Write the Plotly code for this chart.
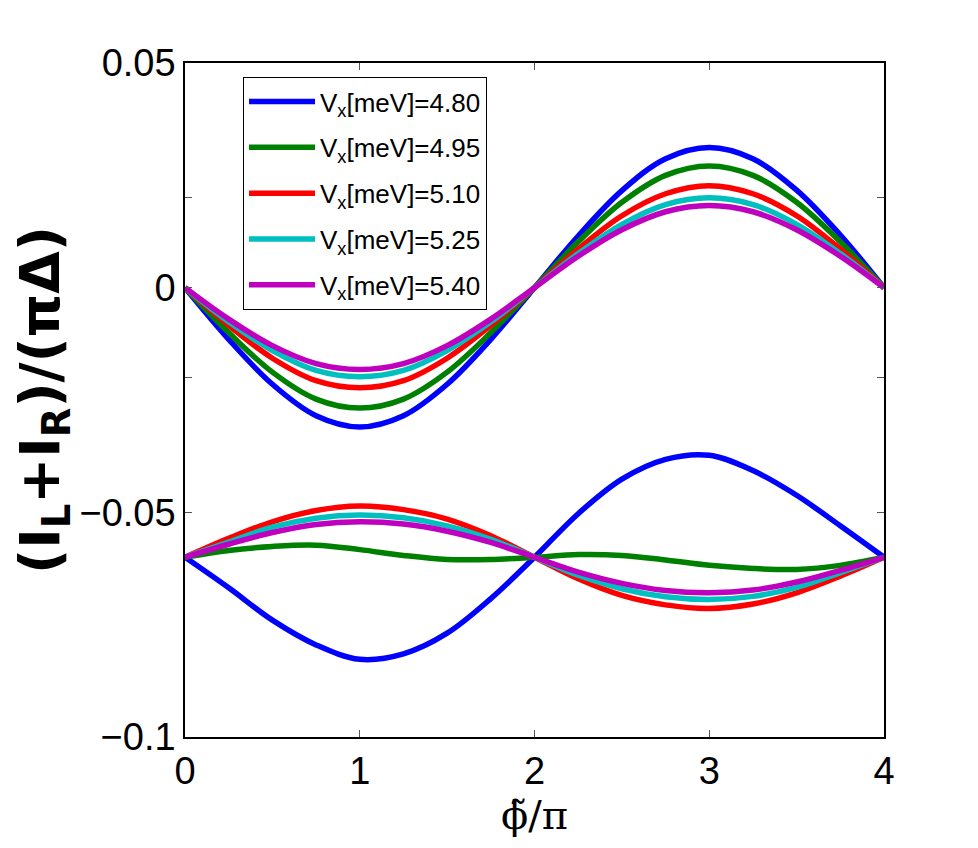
import plotly.graph_objects as go

phi = [0, 0.25, 0.5, 0.75, 1.0, 1.25, 1.5, 1.75, 2.0, 2.25, 2.5, 2.75, 3.0, 3.25, 3.5, 3.75, 4.0]

labels = ["V<sub>x</sub>[meV]=4.80", "V<sub>x</sub>[meV]=4.95", "V<sub>x</sub>[meV]=5.10",
          "V<sub>x</sub>[meV]=5.25", "V<sub>x</sub>[meV]=5.40"]
colors = ["#0000FF", "#008000", "#FF0000", "#00BFBF", "#BF00BF"]

upper_480 = [0, -0.0115, -0.0215, -0.0285, -0.0310, -0.0285, -0.0215, -0.0115, 0,
             0.0115, 0.0216, 0.0287, 0.0312, 0.0287, 0.0217, 0.0117, 0]
upper_495 = [0, -0.0100, -0.0188, -0.0248, -0.0268, -0.0248, -0.0188, -0.0100, 0,
             0.0102, 0.0190, 0.0250, 0.0271, 0.0250, 0.0190, 0.0102, 0]
upper_510 = [0, -0.0084, -0.0157, -0.0207, -0.0223, -0.0207, -0.0157, -0.0084, 0,
             0.0086, 0.0160, 0.0209, 0.0227, 0.0209, 0.0160, 0.0086, 0]
upper_525 = [0, -0.0076, -0.0140, -0.0184, -0.0198, -0.0184, -0.0140, -0.0076, 0,
             0.0076, 0.0141, 0.0185, 0.0200, 0.0185, 0.0141, 0.0076, 0]
upper_540 = [0, -0.0070, -0.0129, -0.0169, -0.0182, -0.0169, -0.0129, -0.0070, 0,
             0.0070, 0.0129, 0.0169, 0.0183, 0.0169, 0.0129, 0.0070, 0]

lower_480 = [-0.0600, -0.0668, -0.0740, -0.0795, -0.0827, -0.0815, -0.0769, -0.0692, -0.0600,
             -0.0503, -0.0426, -0.0382, -0.0373, -0.0407, -0.0462, -0.0530, -0.0600]
lower_495 = [-0.0600, -0.0585, -0.0576, -0.0573, -0.0583, -0.0596, -0.0605, -0.0605, -0.0600,
             -0.0594, -0.0596, -0.0606, -0.0618, -0.0625, -0.0627, -0.0618, -0.0600]
lower_510 = [-0.0600, -0.0558, -0.0521, -0.0496, -0.0486, -0.0494, -0.0515, -0.0552, -0.0600,
             -0.0648, -0.0685, -0.0706, -0.0714, -0.0704, -0.0679, -0.0642, -0.0600]
lower_525 = [-0.0600, -0.0566, -0.0533, -0.0513, -0.0506, -0.0512, -0.0530, -0.0560, -0.0600,
             -0.0640, -0.0670, -0.0688, -0.0694, -0.0687, -0.0667, -0.0634, -0.0600]
lower_540 = [-0.0600, -0.0571, -0.0545, -0.0527, -0.0521, -0.0526, -0.0542, -0.0567, -0.0600,
             -0.0633, -0.0658, -0.0674, -0.0679, -0.0673, -0.0655, -0.0629, -0.0600]

uppers = [upper_480, upper_495, upper_510, upper_525, upper_540]
lowers = [lower_480, lower_495, lower_510, lower_525, lower_540]

y_tickvals = [-0.1, -0.05, -0.02, 0, 0.02, 0.05]
y_ticktext = ["\u22120.1", "\u22120.05", "", "0", "", "0.05"]
x_tickvals = [0, 1, 2, 3, 4]
x_ticktext = ["0", "1", "2", "3", "4"]

fig = go.Figure()
for i in range(5):
    xs = phi + [None] + phi
    ys = uppers[i] + [None] + lowers[i]
    fig.add_trace(go.Scatter(
        x=xs, y=ys, mode="lines", name=labels[i],
        line=dict(color=colors[i], width=5.5, shape="spline", smoothing=1.0),
        connectgaps=False, legendgroup=str(i),
    ))

axis_common = dict(
    showline=True, linecolor="black", linewidth=1.5, mirror="ticks",
    ticks="inside", ticklen=7, tickwidth=1, tickcolor="#555555",
    showgrid=False, zeroline=False,
    tickfont=dict(family="Liberation Sans, Arial, sans-serif", size=38, color="black"),
)

fig.update_xaxes(range=[0, 4], tickvals=x_tickvals, ticktext=x_ticktext,
                 title=dict(text="\u03d5\u0303/\u03c0",
                            font=dict(family="DejaVu Serif, serif", size=40, color="black"),
                            standoff=0),
                 **axis_common)
fig.update_yaxes(range=[-0.1, 0.05], tickvals=y_tickvals, ticktext=y_ticktext,
                 title=dict(text="<b>(I<sub>L</sub>+I<sub>R</sub>)/(\u03c0\u0394)</b>",
                            font=dict(family="DejaVu Sans, sans-serif", size=55, color="black"),
                            standoff=0),
                 **axis_common)

fig.update_layout(
    width=978, height=848,
    margin=dict(l=185, r=94, t=63, b=111),
    paper_bgcolor="white", plot_bgcolor="white",
    showlegend=True,
    legend=dict(
        x=0.083, y=0.979, xanchor="left", yanchor="top",
        bgcolor="white", bordercolor="black", borderwidth=1,
        font=dict(family="Liberation Sans, Arial, sans-serif", size=26, color="black"),
        itemwidth=66, tracegroupgap=9,
    ),
)

fig.write_html("out.html")
